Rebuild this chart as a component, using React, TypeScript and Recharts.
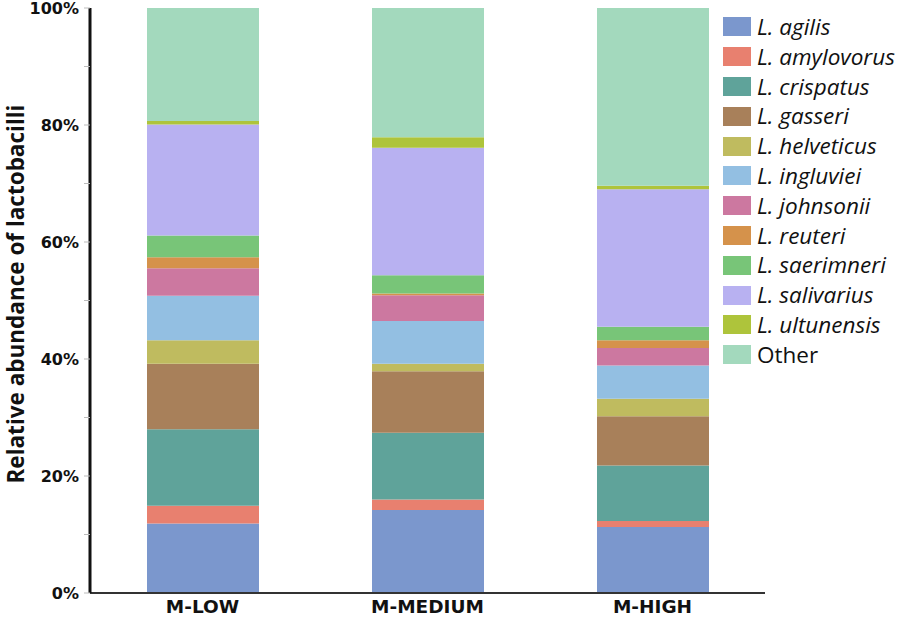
import React from 'react';
import { BarChart, Bar, XAxis, YAxis } from 'recharts';

// Relative abundance (%) of each Lactobacillus species per group
const groups = ['M-LOW', 'M-MEDIUM', 'M-HIGH'];

const species = [
  'L. agilis',
  'L. amylovorus',
  'L. crispatus',
  'L. gasseri',
  'L. helveticus',
  'L. ingluviei',
  'L. johnsonii',
  'L. reuteri',
  'L. saerimneri',
  'L. salivarius',
  'L. ultunensis',
  'Other',
];

const colors = [
  '#7b97cd',
  '#e8806f',
  '#5fa39a',
  '#a8805a',
  '#bfbb5f',
  '#93bfe2',
  '#cc78a0',
  '#d5924b',
  '#78c578',
  '#b8b1f1',
  '#aec43b',
  '#a3d9bd',
];

const mLow = [11.9, 3.0, 13.1, 11.2, 4.0, 7.6, 4.7, 1.9, 3.7, 19.0, 0.6, 19.3];
const mMedium = [14.2, 1.8, 11.4, 10.5, 1.3, 7.3, 4.4, 0.3, 3.1, 21.8, 1.8, 22.1];
const mHigh = [11.3, 1.0, 9.5, 8.4, 3.0, 5.7, 3.0, 1.3, 2.3, 23.5, 0.6, 30.4];

const yTicks = [0, 10, 20, 30, 40, 50, 60, 70, 80, 90, 100];

const seriesValues = [mLow, mMedium, mHigh];

const data = groups.map((name, gi) => {
  const row: Record<string, string | number> = { name };
  species.forEach((s, si) => {
    row[s] = seriesValues[gi][si];
  });
  return row;
});

// legend drawn as an overlay so it doesn't shrink the plot area
const LegendList = () => (
  <div
    style={{
      position: 'absolute',
      left: 723,
      top: 12,
      width: 175,
      fontFamily: '"Open Sans", sans-serif',
      fontSize: 22.5,
      color: '#111',
      whiteSpace: 'nowrap',
    }}
  >
    {species.map((s, i) => (
      <div key={s} style={{ display: 'flex', alignItems: 'center', height: 29.8 }}>
        <span
          style={{
            display: 'inline-block',
            flex: 'none',
            width: 28,
            height: 19,
            background: colors[i],
            marginRight: 6,
          }}
        />
        <span style={{ fontStyle: s === 'Other' ? 'normal' : 'italic', lineHeight: '29.8px' }}>{s}</span>
      </div>
    ))}
  </div>
);

const YLabel = () => (
  <text
    x={15}
    y={294}
    transform="rotate(-90, 15, 294)"
    textAnchor="middle"
    dominantBaseline="central"
    style={{ fontFamily: '"Open Sans", sans-serif', fontWeight: 700, fontSize: 22.5, fill: '#111' }}
  >
    Relative abundance of lactobacilli
  </text>
);

export default function App() {
  return (
    <div style={{ position: 'absolute', left: 0, top: 0, width: 898, height: 617, background: '#fff' }}>
      <BarChart
        width={898}
        height={617}
        data={data}
        margin={{ top: 8, right: 133, bottom: 0, left: 0 }}
        barSize={112}
      >
        <XAxis
          dataKey="name"
          height={24}
          axisLine={{ stroke: '#333', strokeWidth: 2 }}
          tickLine={false}
          tickSize={0}
          tickMargin={7}
          tick={{ fontFamily: '"DejaVu Sans", sans-serif', fontWeight: 700, fontSize: 18.5, fill: '#111' }}
        />
        <YAxis
          width={90}
          domain={[0, 100]}
          ticks={yTicks}
          interval={0}
          tickFormatter={(v: number) => (v % 20 === 0 ? `${v}%` : '')}
          axisLine={{ stroke: '#111', strokeWidth: 3 }}
          tickLine={{ stroke: '#bbb' }}
          tickSize={6}
          tickMargin={5}
          tick={{ fontFamily: '"DejaVu Sans", sans-serif', fontWeight: 700, fontSize: 16, fill: '#111' }}
          label={{ content: () => <YLabel /> }}
        />
        {species.map((s, i) => (
          <Bar key={s} dataKey={s} stackId="a" fill={colors[i]} isAnimationActive={false} />
        ))}
      </BarChart>
      <LegendList />
    </div>
  );
}
